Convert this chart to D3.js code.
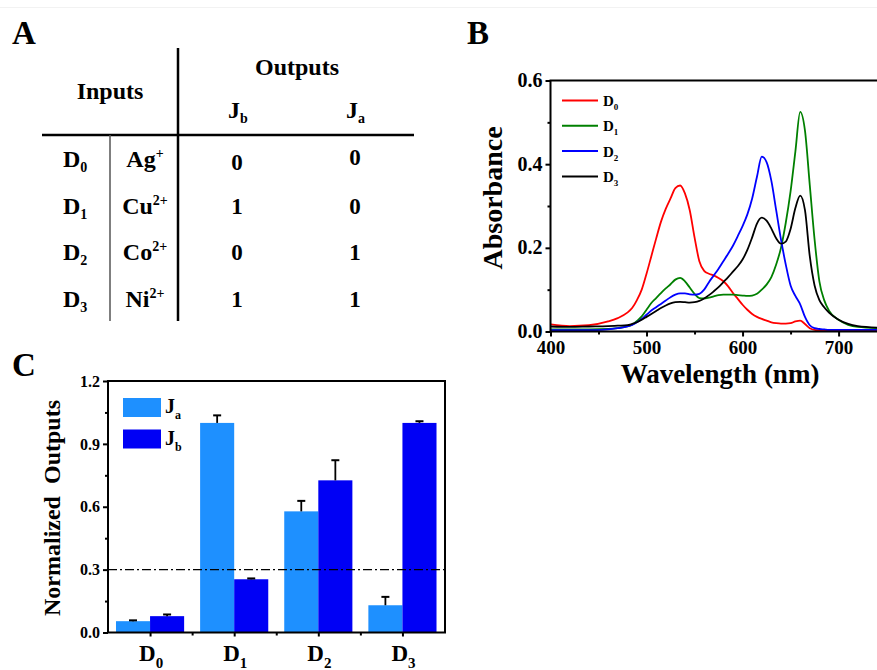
<!DOCTYPE html>
<html><head><meta charset="utf-8">
<script src="https://cdn.jsdelivr.net/npm/d3@7"></script>
<style>
body{margin:0;background:#fff}
text{font-family:"Liberation Serif","Times New Roman",serif;font-weight:bold;fill:#000}
</style>
</head><body>
<svg id="fig" width="877" height="670"></svg>
<script>
// ---------- Panel A: truth table ----------
const tableInputs = ["0", "1", "2", "3"];
const tableIons = [["Ag", "+"], ["Cu", "2+"], ["Co", "2+"], ["Ni", "2+"]];
const tableJb = [0, 1, 0, 1];
const tableJa = [0, 0, 1, 1];

// ---------- Panel B: absorption spectra ----------
const wavelengths = [400,420,440,460,470,480,485,490,495,500,505,510,515,520,525,530,535,540,545,550,555,560,565,570,575,580,585,590,595,600,605,610,615,620,625,630,635,640,645,650,655,660,665,670,675,680,685,690,700,710,720,745];
const absD0 = [.017,.013,.015,.024,.032,.045,.056,.075,.100,.138,.180,.222,.262,.293,.318,.343,.349,.330,.290,.225,.168,.145,.138,.134,.128,.120,.108,.092,.078,.064,.052,.042,.035,.030,.026,.022,.020,.019,.019,.020,.024,.026,.018,.008,.004,.003,.002,.002,.002,.002,.002,.002];
const absD1 = [.005,.005,.005,.006,.008,.012,.016,.025,.036,.052,.068,.080,.092,.103,.113,.124,.128,.120,.105,.090,.080,.079,.081,.084,.087,.088,.088,.088,.087,.086,.085,.086,.090,.100,.112,.130,.160,.200,.260,.335,.430,.525,.480,.350,.220,.120,.075,.050,.028,.016,.011,.008];
const absD2 = [.003,.003,.003,.005,.008,.012,.016,.022,.030,.040,.050,.058,.066,.074,.082,.088,.091,.091,.089,.088,.090,.100,.118,.134,.150,.168,.186,.205,.228,.252,.280,.318,.370,.418,.405,.360,.290,.220,.160,.110,.085,.065,.035,.015,.008,.006,.005,.004,.004,.004,.004,.004];
const absD3 = [.012,.011,.012,.013,.014,.015,.018,.022,.028,.035,.042,.049,.056,.062,.067,.070,.071,.070,.069,.070,.073,.079,.087,.096,.106,.118,.130,.143,.156,.172,.195,.225,.258,.272,.265,.246,.223,.210,.215,.245,.295,.325,.290,.180,.110,.075,.058,.045,.028,.018,.013,.009];
const specNames = ["0", "1", "2", "3"];
const specColors = ["#ff0000", "#008000", "#0000ff", "#000000"];
const xTicksB = [400, 500, 600, 700];
const xMinorB = [450, 550, 650];
const yTicksB = [0, 0.2, 0.4, 0.6];
const yMinorB = [0.1, 0.3, 0.5];

// ---------- Panel C: normalized outputs ----------
const categories = ["0", "1", "2", "3"];
const jaValues = [0.054, 1.000, 0.578, 0.130];
const jaErrors = [0.004, 0.036, 0.050, 0.040];
const jbValues = [0.078, 0.254, 0.726, 1.000];
const jbErrors = [0.008, 0.004, 0.096, 0.008];
const yTicksC = [0, 0.3, 0.6, 0.9, 1.2];
const yMinorC = [0.15, 0.45, 0.75, 1.05];
const threshold = 0.3;
const seriesC = ["a", "b"];
const colorsC = {a: "#1e90ff", b: "#0000f5"};

const svg = d3.select("#fig");

// helper: base text with sub/superscript
function rich(g, x, y, base, script, size, sSize, dy, anchor) {
  const t = g.append("text").attr("x", x).attr("y", y)
    .attr("font-size", size).attr("text-anchor", anchor || "start");
  t.append("tspan").text(base);
  t.append("tspan").text(script).attr("font-size", sSize).attr("dy", dy);
  return t;
}

// faint top rule
svg.append("line").attr("x1", 0).attr("x2", 877).attr("y1", 7.5).attr("y2", 7.5)
  .attr("stroke", "#f2f2f2").attr("stroke-width", 1);

// panel letters
svg.append("text").attr("x", 12).attr("y", 44).attr("font-size", 33).text("A");
svg.append("text").attr("x", 467).attr("y", 44).attr("font-size", 33).text("B");
svg.append("text").attr("x", 12).attr("y", 376).attr("font-size", 33).text("C");

// ===== Panel A =====
const gA = svg.append("g");
gA.append("line").attr("x1", 42).attr("x2", 414).attr("y1", 135).attr("y2", 135)
  .attr("stroke", "#000").attr("stroke-width", 2.5);
gA.append("line").attr("x1", 178).attr("x2", 178).attr("y1", 48).attr("y2", 321)
  .attr("stroke", "#000").attr("stroke-width", 2.5);
gA.append("line").attr("x1", 110).attr("x2", 110).attr("y1", 135).attr("y2", 321)
  .attr("stroke", "#555").attr("stroke-width", 1.5);
gA.append("text").attr("x", 297).attr("y", 75).attr("font-size", 24).attr("text-anchor", "middle").text("Outputs");
gA.append("text").attr("x", 110).attr("y", 99).attr("font-size", 24).attr("text-anchor", "middle").text("Inputs");
rich(gA, 228, 118, "J", "b", 24, 14, 5);
rich(gA, 346, 118, "J", "a", 24, 14, 5);
const colJb = 237, colJa = 355;
tableInputs.forEach((d, i) => {
  const yb = 167 + i * 46.5;
  rich(gA, 63, yb, "D", d, 24, 14, 5);
  rich(gA, 145, yb, tableIons[i][0], tableIons[i][1], 24, 14, -9, "middle");
  gA.append("text").attr("x", colJb).attr("y", yb + (i === 0 ? 3 : 0)).attr("font-size", 23)
    .attr("text-anchor", "middle").text(tableJb[i]);
  gA.append("text").attr("x", colJa).attr("y", yb - (i === 0 ? 2 : 0)).attr("font-size", 23)
    .attr("text-anchor", "middle").text(tableJa[i]);
});

// ===== Panel B =====
const gB = svg.append("g");
const xB = d3.scaleLinear().domain([400, 740]).range([550.5, 877]);
const yB = d3.scaleLinear().domain([0, 0.6]).range([331.5, 80.5]);

gB.append("clipPath").attr("id", "clipB").append("rect")
  .attr("x", 551).attr("y", 70).attr("width", 330).attr("height", 261);

const specs = [absD0, absD1, absD2, absD3];
const line = d3.line().x(d => xB(d[0])).y(d => yB(d[1])).curve(d3.curveMonotoneX);
const plotB = gB.append("g").attr("clip-path", "url(#clipB)");
specs.forEach((arr, k) => {
  plotB.append("path").datum(wavelengths.map((w, i) => [w, arr[i]]))
    .attr("d", line).attr("fill", "none").attr("stroke", specColors[k]).attr("stroke-width", 1.8);
});

// axes B
const yAxisB = gB.append("g").attr("transform", "translate(550.5,0)")
  .call(d3.axisLeft(yB).tickValues(yTicksB).tickFormat(d3.format(".1f")).tickSize(5).tickPadding(3));
yAxisB.selectAll("text").attr("font-size", 20).attr("dy", "0.3em").style("font-family", '"Liberation Serif",serif').style("font-weight", "bold");
gB.append("g").attr("transform", "translate(550.5,0)")
  .call(d3.axisLeft(yB).tickValues(yMinorB).tickFormat("").tickSize(3));
const xAxisB = gB.append("g").attr("transform", "translate(0,331.5)")
  .call(d3.axisBottom(xB).tickValues(xTicksB).tickSize(5).tickPadding(4));
xAxisB.selectAll("text").attr("font-size", 19).style("font-family", '"Liberation Serif",serif').style("font-weight", "bold");
gB.append("g").attr("transform", "translate(0,331.5)")
  .call(d3.axisBottom(xB).tickValues(xMinorB).tickFormat("").tickSize(3));
gB.selectAll(".domain").remove();
gB.selectAll(".tick line").attr("stroke-width", 2);
// frame
gB.append("path").attr("d", `M877,${yB(0.6)}H${xB(400)}V${yB(0)}H877`)
  .attr("fill", "none").attr("stroke", "#000").attr("stroke-width", 2);

gB.append("text").attr("transform", "translate(502,198) rotate(-90)")
  .attr("text-anchor", "middle").attr("font-size", 28).text("Absorbance");
gB.append("text").attr("x", 720).attr("y", 383).attr("text-anchor", "middle")
  .attr("font-size", 27).text("Wavelength (nm)");

// legend B
specNames.forEach((n, k) => {
  const ly = 100.5 + k * 25.3;
  gB.append("line").attr("x1", 562).attr("x2", 598).attr("y1", ly).attr("y2", ly)
    .attr("stroke", specColors[k]).attr("stroke-width", 2);
  rich(gB, 603, ly + 5.5, "D", n, 15, 9, 4);
});

// ===== Panel C =====
const gC = svg.append("g");
const x0 = d3.scaleBand().domain(categories).range([108, 444.5]).paddingInner(0.19).paddingOuter(0.095);
const x1 = d3.scaleBand().domain(seriesC).range([0, x0.bandwidth()]);
const yC = d3.scaleLinear().domain([0, 1.2]).range([632.5, 381]);

const barData = [];
categories.forEach((c, i) => {
  barData.push({cat: c, s: "a", v: jaValues[i], e: jaErrors[i]});
  barData.push({cat: c, s: "b", v: jbValues[i], e: jbErrors[i]});
});
gC.selectAll("rect.bar").data(barData).join("rect").attr("class", "bar")
  .attr("x", d => x0(d.cat) + x1(d.s)).attr("width", x1.bandwidth())
  .attr("y", d => yC(d.v)).attr("height", d => yC(0) - yC(d.v))
  .attr("fill", d => colorsC[d.s]);
// error bars (upper only)
barData.forEach(d => {
  const cx = x0(d.cat) + x1(d.s) + x1.bandwidth() / 2;
  gC.append("line").attr("x1", cx).attr("x2", cx).attr("y1", yC(d.v)).attr("y2", yC(d.v + d.e))
    .attr("stroke", "#000").attr("stroke-width", 1.8);
  gC.append("line").attr("x1", cx - 4).attr("x2", cx + 4).attr("y1", yC(d.v + d.e)).attr("y2", yC(d.v + d.e))
    .attr("stroke", "#000").attr("stroke-width", 2);
});

// threshold line
gC.append("line").attr("x1", 108).attr("x2", 445).attr("y1", yC(threshold)).attr("y2", yC(threshold))
  .attr("stroke", "#000").attr("stroke-width", 1.2).attr("stroke-dasharray", "9,3,2,3");

// axes C
const yAxisC = gC.append("g").attr("transform", "translate(108,0)")
  .call(d3.axisLeft(yC).tickValues(yTicksC).tickFormat(d3.format(".1f")).tickSize(5).tickPadding(3));
yAxisC.selectAll("text").attr("font-size", 16).style("font-family", '"Liberation Serif",serif').style("font-weight", "bold");
gC.append("g").attr("transform", "translate(108,0)")
  .call(d3.axisLeft(yC).tickValues(yMinorC).tickFormat("").tickSize(3));
const centers = categories.map(c => x0(c) + x0.bandwidth() / 2);
const bounds = categories.slice(1).map(c => x0(c) - x0.step() * x0.paddingInner() / 2);
const xAxisC = d3.scaleIdentity().domain([108, 445]);
gC.append("g").attr("transform", "translate(0,632.5)")
  .call(d3.axisBottom(xAxisC).tickValues(centers).tickFormat("").tickSize(4));
gC.append("g").attr("transform", "translate(0,632.5)")
  .call(d3.axisBottom(xAxisC).tickValues(bounds).tickFormat("").tickSize(3));
gC.selectAll(".domain").remove();
gC.selectAll(".tick line").attr("stroke-width", 2);
gC.append("rect").attr("x", 108).attr("y", 381).attr("width", 337).attr("height", 251.5)
  .attr("fill", "none").attr("stroke", "#000").attr("stroke-width", 2);

categories.forEach((c, i) => {
  rich(gC, centers[i] + 1, 661, "D", c, 23, 15, 7, "middle");
});

gC.append("text").attr("transform", "translate(60,508) rotate(-90)")
  .attr("text-anchor", "middle").attr("font-size", 24).style("white-space", "pre")
  .text("Normalized  Outputs");

// legend C
seriesC.forEach((s, k) => {
  const ly = 398 + k * 31.5;
  gC.append("rect").attr("x", 123).attr("y", ly).attr("width", 38).attr("height", 19)
    .attr("fill", colorsC[s]);
  rich(gC, 165, ly + 15, "J", s, 20, 12, 6);
});
</script>
</body></html>
